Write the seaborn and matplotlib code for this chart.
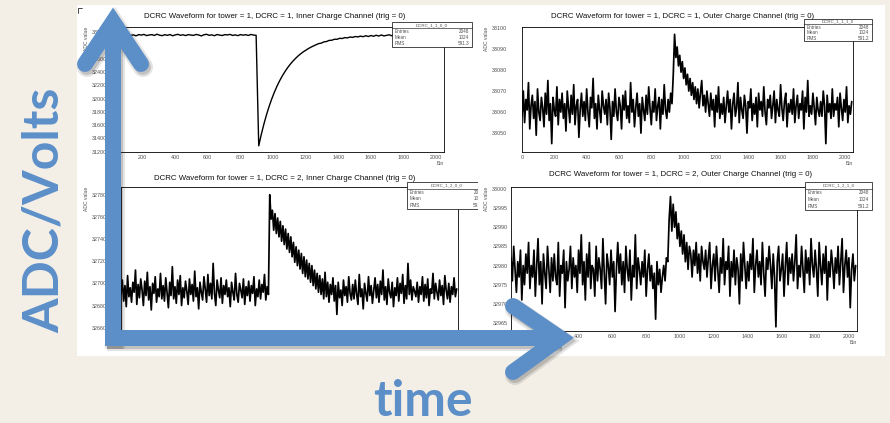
import matplotlib
matplotlib.use("Agg")
import matplotlib.pyplot as plt
import matplotlib.ticker as mticker
from matplotlib.patches import Rectangle
from matplotlib.transforms import Bbox, TransformedBbox
import seaborn as sns
import numpy as np

# canvas size in pixels (figure drawn at dpi=100)
W, H = 890, 423

# bin axis of the DCRC waveforms
bins_coarse = np.arange(0, 2048, 16)
bins_fine = np.arange(0, 2048, 8)

# DCRC 1, inner charge channel (read every 16 bins)
inner1_adc = [
    32958, 32947, 32963, 32951, 32960, 32944, 32956, 32966, 32949, 32957, 32942, 32961, 32953, 32964, 32946, 32955,
    32960, 32948, 32967, 32952, 32945, 32959, 32950, 32962, 32943, 32956, 32965, 32951, 32958, 32946, 32961, 32954,
    32949, 32963, 32955, 32941, 32958, 32966, 32950, 32957, 32944, 32962, 32953, 32947, 32960, 32956, 32964, 32948,
    32957, 32945, 32961, 32952, 32959, 32948, 32963, 32954, 32950, 31290, 31464, 31620, 31759, 31884, 31996, 32096,
    32186, 32266, 32338, 32402, 32460, 32512, 32558, 32599, 32637, 32670, 32700, 32726, 32750, 32772, 32791, 32808,
    32826, 32833, 32852, 32857, 32874, 32876, 32891, 32890, 32905, 32902, 32916, 32911, 32925, 32919, 32932, 32926,
    32938, 32929, 32944, 32932, 32947, 32936, 32951, 32939, 32955, 32941, 32949, 32958, 32943, 32954, 32946, 32960,
    32948, 32957, 32944, 32962, 32951, 32946, 32959, 32953, 32965, 32947, 32956, 32950, 32961, 32945, 32958, 32952,
]

# DCRC 1, outer charge channel (read every 8 bins)
outer1_adc = [
    33058, 33070, 33055, 33066, 33061, 33074, 33052, 33063, 33068, 33057, 33065, 33049, 33071, 33060, 33056, 33067,
    33062, 33053, 33069, 33059, 33075, 33056, 33064, 33045, 33067, 33061, 33058, 33072, 33054, 33066, 33060, 33069,
    33057, 33064, 33051, 33070, 33062, 33055, 33068, 33059, 33073, 33054, 33063, 33066, 33048, 33061, 33069, 33058,
    33065, 33056, 33071, 33060, 33053, 33067, 33062, 33076, 33057, 33064, 33052, 33068, 33061, 33055, 33070, 33063,
    33059, 33066, 33054, 33069, 33062, 33047, 33065, 33058, 33071, 33060, 33056, 33067, 33063, 33052, 33068, 33061,
    33070, 33057, 33063, 33055, 33074, 33060, 33066, 33053, 33062, 33069, 33058, 33064, 33050, 33067, 33061, 33056,
    33068, 33059, 33072, 33062, 33054, 33065, 33060, 33071, 33056, 33063, 33067, 33052, 33066, 33059, 33073, 33061,
    33057, 33066, 33060, 33069, 33064, 33078, 33097, 33086, 33091, 33082, 33087, 33079, 33084, 33076, 33081, 33073,
    33078, 33070, 33076, 33068, 33074, 33066, 33072, 33064, 33071, 33062, 33069, 33075, 33063, 33068, 33060, 33070,
    33064, 33058, 33069, 33061, 33066, 33053, 33068, 33060, 33072, 33057, 33064, 33059, 33067, 33055, 33063, 33070,
    33060, 33066, 33052, 33064, 33069, 33058, 33062, 33074, 33055, 33067, 33061, 33057, 33068, 33063, 33050, 33065,
    33062, 33071, 33056, 33064, 33059, 33067, 33053, 33069, 33061, 33065, 33058, 33072, 33060, 33054, 33066, 33062,
    33068, 33057, 33063, 33070, 33055, 33066, 33061, 33058, 33073, 33062, 33056, 33065, 33069, 33053, 33064, 33060,
    33066, 33059, 33071, 33055, 33063, 33068, 33057, 33064, 33061, 33070, 33052, 33067, 33060, 33075, 33058, 33063,
    33059, 33069, 33062, 33054, 33067, 33061, 33058, 33065, 33058, 33070, 33063, 33045, 33068, 33060, 33064, 33057,
    33071, 33058, 33064, 33061, 33067, 33053, 33069, 33062, 33056, 33066, 33060, 33072, 33055, 33063, 33059, 33065,
]

# DCRC 2, inner charge channel
inner2_adc = [
    32690, 32703, 32684, 32698, 32679, 32707, 32688, 32696, 32683, 32701, 32692, 32712, 32681, 32699, 32687, 32704,
    32694, 32680, 32702, 32689, 32710, 32685, 32697, 32676, 32700, 32691, 32706, 32683, 32695, 32688, 32709, 32686,
    32698, 32684, 32705, 32692, 32678, 32701, 32689, 32715, 32686, 32697, 32682, 32703, 32690, 32707, 32680, 32696,
    32687, 32702, 32693, 32681, 32704, 32690, 32699, 32684, 32711, 32688, 32696, 32677, 32701, 32692, 32685, 32706,
    32695, 32683, 32708, 32689, 32700, 32686, 32718, 32691, 32680, 32703, 32694, 32687, 32705, 32682, 32698, 32690,
    32703, 32688, 32696, 32679, 32701, 32692, 32685, 32709, 32690, 32683, 32700, 32694, 32687, 32704, 32681, 32697,
    32689, 32702, 32684, 32698, 32691, 32706, 32680, 32695, 32688, 32703, 32686, 32699, 32692, 32708, 32685, 32697,
    32690, 32780, 32758, 32766, 32748, 32763, 32745, 32759, 32742, 32756, 32738, 32752, 32735, 32749, 32731, 32745,
    32728, 32742, 32724, 32737, 32719, 32733, 32716, 32730, 32713, 32727, 32709, 32724, 32706, 32721, 32704, 32718,
    32701, 32716, 32698, 32712, 32695, 32709, 32692, 32707, 32690, 32704, 32686, 32710, 32688, 32701, 32683, 32699,
    32690, 32705, 32684, 32698, 32672, 32701, 32687, 32694, 32680, 32703, 32689, 32697, 32683, 32706, 32691, 32685,
    32699, 32686, 32703, 32690, 32681, 32708, 32688, 32695, 32677, 32700, 32691, 32684, 32706, 32689, 32698, 32682,
    32694, 32705, 32687, 32699, 32683, 32702, 32690, 32712, 32685, 32697, 32681, 32704, 32692, 32687, 32701, 32679,
    32696, 32689, 32705, 32684, 32700, 32691, 32708, 32682, 32698, 32686, 32718, 32690, 32703, 32685, 32697, 32693,
    32688, 32701, 32683, 32697, 32690, 32706, 32684, 32699, 32687, 32704, 32680, 32695, 32691, 32709, 32686, 32700,
    32692, 32685, 32703, 32689, 32698, 32681, 32707, 32694, 32686, 32700, 32683, 32697, 32690, 32705, 32688, 32695,
]

# DCRC 2, outer charge channel
outer2_adc = [
    32982, 32976, 32985, 32979, 32973, 32981, 32977, 32984, 32971, 32980, 32975, 32983, 32978, 32986, 32974, 32980,
    32977, 32984, 32972, 32980, 32987, 32975, 32981, 32970, 32983, 32978, 32974, 32985, 32979, 32973, 32982, 32976,
    32983, 32977, 32975, 32986, 32972, 32980, 32978, 32984, 32969, 32981, 32976, 32979, 32985, 32974, 32982, 32977,
    32980, 32973, 32984, 32978, 32988, 32975, 32981, 32971, 32983, 32977, 32986, 32974, 32980, 32979, 32972, 32985,
    32976, 32982, 32979, 32974, 32987, 32978, 32970, 32983, 32980, 32975, 32984, 32977, 32981, 32968, 32979, 32986,
    32978, 32983, 32975, 32981, 32973, 32985, 32979, 32976, 32984, 32971, 32980, 32977, 32988, 32974, 32982, 32979,
    32975, 32981, 32977, 32984, 32972, 32979, 32983, 32976, 32980, 32974, 32978, 32966, 32981, 32975, 32979, 32973,
    32977, 32980, 32976, 32982, 32981, 32992, 32998, 32989, 32996, 32990, 32994, 32987, 32991, 32985, 32989, 32983,
    32988, 32981, 32986, 32979, 32985, 32983, 32977, 32984, 32980, 32986, 32978, 32983, 32976, 32985, 32981, 32979,
    32984, 32977, 32982, 32986, 32974, 32980, 32983, 32976, 32985, 32979, 32973, 32982, 32978, 32987, 32975, 32981,
    32979, 32985, 32972, 32981, 32977, 32984, 32975, 32982, 32979, 32970, 32983, 32976, 32986, 32980, 32974, 32981,
    32976, 32983, 32979, 32987, 32973, 32980, 32984, 32977, 32981, 32975, 32986, 32978, 32972, 32982, 32979, 32985,
    32980, 32974, 32983, 32977, 32964, 32981, 32985, 32976, 32979, 32983, 32972, 32980, 32986, 32975, 32982, 32978,
    32983, 32976, 32981, 32988, 32974, 32980, 32977, 32985, 32979, 32973, 32984, 32978, 32982, 32975, 32987, 32980,
    32977, 32984, 32979, 32972, 32986, 32980, 32975, 32983, 32978, 32985, 32971, 32981, 32977, 32984, 32980, 32974,
    32982, 32978, 32985, 32975, 32981, 32987, 32973, 32980, 32984, 32977, 32982, 32969, 32979, 32983, 32976, 32980,
]

titles = [
    "DCRC Waveform for tower = 1, DCRC = 1, Inner Charge Channel (trig = 0)",
    "DCRC Waveform for tower = 1, DCRC = 1, Outer Charge Channel (trig = 0)",
    "DCRC Waveform for tower = 1, DCRC = 2, Inner Charge Channel (trig = 0)",
    "DCRC Waveform for tower = 1, DCRC = 2, Outer Charge Channel (trig = 0)",
]
stat_names = ["DCRC_1_1_0_0", "DCRC_1_1_1_0", "DCRC_1_2_0_0", "DCRC_1_2_1_0"]
stat_entries = ["2048", "2048", "2048", "2048"]
stat_means = ["1024", "1024", "1024", "1024"]
stat_rms = ["591.3", "591.2", "591.2", "591.2"]

BLUE = "#5c8fc8"
GREY = "#505050"

sns.set_style("white")
plt.rcParams["font.family"] = ["Liberation Sans", "DejaVu Sans"]

fig = plt.figure(figsize=(W / 100, H / 100), dpi=100)
fig.patch.set_facecolor("#f3efe7")


def px_rect(l, t, r, b):
    return [l / W, 1 - b / H, (r - l) / W, (b - t) / H]


def pixel_axes(z):
    a = fig.add_axes([0, 0, 1, 1])
    a.set_xlim(0, W)
    a.set_ylim(H, 0)
    a.axis("off")
    a.patch.set_alpha(0)
    a.set_zorder(z)
    return a


# white screenshot area
bg = pixel_axes(0)
bg.add_patch(Rectangle((77, 5), 808, 351, facecolor="white", edgecolor="none"))
bg.plot([78, 78, 82], [13, 8, 8], color="black", lw=0.5)


def root_panel(frame, bins, adc, ylim, ymaj, ymin, ypad, lw):
    ax = fig.add_axes(px_rect(*frame))
    ax.set_zorder(2)
    ax.set_facecolor("white")
    sns.lineplot(x=bins, y=adc, ax=ax, color="black", linewidth=lw, estimator=None)
    ax.set_xlim(0, 2048)
    ax.set_ylim(*ylim)
    ax.xaxis.set_major_locator(mticker.MultipleLocator(200))
    ax.xaxis.set_minor_locator(mticker.MultipleLocator(50))
    ax.yaxis.set_major_locator(mticker.MultipleLocator(ymaj))
    ax.yaxis.set_minor_locator(mticker.MultipleLocator(ymin))
    ax.yaxis.set_major_formatter(mticker.FormatStrFormatter("%d"))
    ax.tick_params(which="both", direction="in", labelsize=3.9, labelcolor=GREY,
                   width=0.5, pad=2, top=False, right=False)
    ax.tick_params(axis="y", which="major", length=5.5, pad=ypad)
    ax.tick_params(axis="y", which="minor", length=2.8)
    ax.tick_params(axis="x", which="major", length=3)
    ax.tick_params(axis="x", which="minor", length=1.5)
    for s in ax.spines.values():
        s.set_linewidth(0.6)
        s.set_color("black")
    ax.set_xlabel("Bin", loc="right", fontsize=3.6, color=GREY, labelpad=1)
    ax.set_ylabel("ADC value", loc="top", fontsize=3.6, color=GREY, labelpad=2)
    return ax


root_panel((110, 27, 444, 152), bins_coarse, inner1_adc, (31197, 33075), 200, 40, 2, 1.0)
root_panel((522, 27, 853, 152), bins_fine, outer1_adc, (33041, 33100.5), 10, 2, 11, 1.25)
root_panel((121, 187, 458, 331), bins_fine, inner2_adc, (32657, 32787), 20, 4, 10, 1.25)
root_panel((511, 187, 857, 331), bins_fine, outer2_adc, (32962.9, 33000.5), 5, 1, 2.5, 1.25)

ov = pixel_axes(5)

for (tx, ty), title in zip([(275, 16), (683, 16), (285, 178), (681, 174)], titles):
    ov.text(tx, ty, title, ha="center", va="center", fontsize=5.7, color="#111111")

# the right part of the third stats box is covered by the fourth screenshot
clip_box = TransformedBbox(Bbox([[0, 0], [478, H]]), ov.transData)
boxes = [(392, 22, 472, 47), (804, 19, 872, 41), (407, 182, 487, 209), (805, 182, 872, 210)]
for k, (l, t, r, b) in enumerate(boxes):
    row = (b - t) / 4
    arts = [ov.add_patch(Rectangle((l, t), r - l, b - t, facecolor="white",
                                   edgecolor="black", lw=0.5, zorder=3))]
    arts += ov.plot([l, r], [t + row, t + row], color="black", lw=0.4, zorder=3)
    arts.append(ov.text((l + r) / 2, t + row / 2, stat_names[k], ha="center", va="center",
                        fontsize=3.2, color=GREY, zorder=4))
    for j, (lab, val) in enumerate(zip(["Entries", "Mean", "RMS"],
                                       [stat_entries[k], stat_means[k], stat_rms[k]])):
        y = t + row * (j + 1.5)
        arts.append(ov.text(l + 3, y, lab, ha="left", va="center", fontsize=3.3, color=GREY, zorder=4))
        arts.append(ov.text(r - 3, y, val, ha="right", va="center", fontsize=3.3, color=GREY, zorder=4))
    if k == 2:
        for a in arts:
            a.set_clip_box(clip_box)
            a.set_clip_on(True)


def thick(xs, ys, cap, z=10):
    lw = 11.5
    ov.plot([x + 2 for x in xs], [y + 3 for y in ys], color="#222222", alpha=0.12, lw=lw + 3,
            solid_capstyle=cap, solid_joinstyle="miter", zorder=z - 1)
    ov.plot([x + 2 for x in xs], [y + 3 for y in ys], color="#222222", alpha=0.18, lw=lw,
            solid_capstyle=cap, solid_joinstyle="miter", zorder=z - 1)
    ov.plot(xs, ys, color=BLUE, lw=lw, solid_capstyle=cap, solid_joinstyle="miter", zorder=z)


# y arrow (ADC) and x arrow (time)
thick([113, 113], [346, 24], "butt")
thick([85, 113, 141], [64, 22, 64], "round")
thick([105, 560], [338, 338], "butt")
thick([513, 560, 513], [306, 338, 372], "round")

ov.text(44, 210, "ADC/Volts", rotation=90, ha="center", va="center", fontsize=36,
        fontweight="bold", family=["Lato", "DejaVu Sans"], color=BLUE, zorder=12)
ov.text(423, 402, "time", ha="center", va="center", fontsize=36,
        fontweight="bold", family=["Lato", "DejaVu Sans"], color=BLUE, zorder=12)

fig.savefig("out.png", dpi=100, facecolor=fig.get_facecolor())
